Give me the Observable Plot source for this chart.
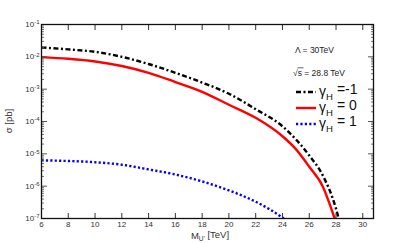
<!DOCTYPE html>
<html><head><meta charset="utf-8">
<script src="https://cdn.jsdelivr.net/npm/d3@7"></script>
<script src="https://cdn.jsdelivr.net/npm/@observablehq/plot@0.6"></script>
<style>
body{margin:0;background:#fff}
svg{font-family:"Liberation Sans",Arial,sans-serif}
</style>
</head><body><div id="chart"></div>
<script>
// gamma_H = -1 (black dash-dot)
const massM1  = [6, 8, 10, 12, 14, 16, 18, 20, 22, 24, 26, 27, 28, 28.2];
const sigmaM1 = [0.0195, 0.0170, 0.0143, 0.0100, 0.0060, 0.0032, 0.0016, 7.2e-4, 2.4e-4, 7.1e-5, 8.9e-6, 2.2e-6, 2.0e-7, 1.0e-7];
// gamma_H = 0 (red solid)
const mass0   = [6, 8, 10, 12, 14, 16, 18, 20, 22, 24, 25, 26, 27, 27.9];
const sigma0  = [0.0098, 0.0087, 0.0072, 0.0052, 0.0032, 0.00166, 8.3e-4, 3.3e-4, 1.3e-4, 3.5e-5, 1.4e-5, 4.0e-6, 1.0e-6, 1.0e-7];
// gamma_H = 1 (blue dotted)
const massP1  = [6, 8, 10, 12, 14, 16, 18, 20, 22, 24, 24.1];
const sigmaP1 = [6.3e-6, 6.0e-6, 5.5e-6, 4.6e-6, 3.3e-6, 2.3e-6, 1.4e-6, 7.4e-7, 3.3e-7, 1.07e-7, 1.0e-7];

const xTicks = [6, 8, 10, 12, 14, 16, 18, 20, 22, 24, 26, 28, 30];
const yExps = [-7, -6, -5, -4, -3, -2, -1];
const legendLabels = ["=-1", "= 0", "= 1"];
const annotLambda = "Λ = 30TeV";
const annotSqrt = "s = 28.8 TeV";

const yMajor = yExps.map(e => Math.pow(10, e));
const yMinor = [];
for (const e of yExps.slice(0, -1)) for (let k = 2; k <= 9; k++) yMinor.push(k * Math.pow(10, e));

const toRows = (ms, ss) => ms.map((m, i) => ({m, s: ss[i]}));
const dM1 = toRows(massM1, sigmaM1), d0 = toRows(mass0, sigma0), dP1 = toRows(massP1, sigmaP1);

const dashBlack = "5,2.5,2,2.5";
const dashBlue = "2.2,2.2";

const plot = Plot.plot({
  width: 415, height: 243,
  marginLeft: 41, marginRight: 42, marginTop: 24, marginBottom: 25,
  style: {fontSize: "8px", color: "#222", background: "#fff"},
  x: {domain: [6, 30.8]},
  y: {type: "log", domain: [1e-7, 1e-1]},
  marks: [
    Plot.line(dM1, {x: "m", y: "s", stroke: "black", strokeWidth: 2.4, strokeDasharray: dashBlack, curve: "monotone-x", clip: true}),
    Plot.line(d0, {x: "m", y: "s", stroke: "#ff0000", strokeWidth: 2.4, curve: "monotone-x", clip: true}),
    Plot.line(dP1, {x: "m", y: "s", stroke: "#0000ff", strokeWidth: 2.4, strokeDasharray: dashBlue, curve: "monotone-x", clip: true}),
    Plot.axisX(xTicks, {anchor: "bottom", tickSize: -5, fill: null, stroke: "#333"}),
    Plot.axisX(xTicks, {anchor: "top", tickSize: -5, fill: null, stroke: "#333"}),
    Plot.axisX(xTicks, {anchor: "bottom", tickSize: 0, tickPadding: 3, label: null, fill: "#333", tickFormat: d => String(d)}),
    Plot.axisY(yMajor, {anchor: "left", tickSize: -6, fill: null, stroke: "#555"}),
    Plot.axisY(yMinor, {anchor: "left", tickSize: -3, fill: null, stroke: "#777"}),
    Plot.axisY(yMajor, {anchor: "right", tickSize: -6, fill: null, stroke: "#555"}),
    Plot.axisY(yMinor, {anchor: "right", tickSize: -3, fill: null, stroke: "#777"}),
    Plot.axisY(yMajor, {anchor: "left", tickSize: 0, tickPadding: 2, label: null, fill: "#333", tickFormat: d => String(Math.round(Math.log10(d)))}),
    Plot.frame({stroke: "#111", strokeWidth: 1.3})
  ]
});
document.getElementById("chart").appendChild(plot);

const svg = d3.select(plot);
// dash patterns on the curves (line marks in order: black, red, blue)
const lineGroups = svg.selectAll('g[aria-label="line"]').nodes();
const dashes = [dashBlack, null, dashBlue];
lineGroups.forEach((g, i) => {
  if (dashes[i]) d3.select(g).selectAll("path").attr("stroke-dasharray", dashes[i]).attr("stroke-linecap", "butt");
});

// superscript y labels
svg.selectAll('g[aria-label="y-axis tick label"] text').each(function() {
  const t = d3.select(this);
  const exp = t.text();
  t.text("");
  t.append("tspan").text("10");
  t.append("tspan").attr("dy", "-0.45em").attr("font-size", "6px").text(exp);
});

// axis titles
const xs = plot.scale("x"), ys = plot.scale("y");
const cx = (xs.range[0] + xs.range[1]) / 2;
const cy = (ys.range[0] + ys.range[1]) / 2;
const xl = svg.append("text").attr("x", cx + 3).attr("y", 239).attr("text-anchor", "middle")
  .attr("font-size", "9.5px").attr("fill", "#333");
xl.append("tspan").text("M");
xl.append("tspan").attr("dy", "0.3em").attr("font-size", "6.5px").text("U'");
xl.append("tspan").attr("dy", "-0.3em").text(" [TeV]");
svg.append("text").attr("transform", `translate(12,${cy}) rotate(-90)`).attr("text-anchor", "middle")
  .attr("font-size", "9.5px").attr("fill", "#333").text("σ [pb]");

// annotations
svg.append("text").attr("x", 295).attr("y", 53).attr("text-anchor", "start").attr("font-size", "8.5px").attr("fill", "#222").text(annotLambda);
const sq = svg.append("text").attr("x", 293).attr("y", 76).attr("text-anchor", "start").attr("font-size", "8.5px").attr("fill", "#222");
sq.append("tspan").text("√");
sq.append("tspan").text(annotSqrt);
svg.append("line").attr("x1", 297.5).attr("x2", 303.5).attr("y1", 67.8).attr("y2", 67.8).attr("stroke", "#222").attr("stroke-width", 0.7);

// legend
const styles = [
  {stroke: "black", dash: dashBlack},
  {stroke: "#ff0000", dash: null},
  {stroke: "#0000ff", dash: dashBlue}
];
legendLabels.forEach((lab, i) => {
  const y = 92 + i * 16;
  svg.append("line").attr("x1", 296).attr("x2", 316).attr("y1", y).attr("y2", y)
    .attr("stroke", styles[i].stroke).attr("stroke-width", 2.4)
    .attr("stroke-dasharray", styles[i].dash);
  const t = svg.append("text").attr("x", 319).attr("y", y + 4).attr("text-anchor", "start").attr("font-size", "14px").attr("fill", "#111");
  t.append("tspan").text("γ");
  t.append("tspan").attr("dy", "0.4em").attr("font-size", "9.5px").text("H");
  t.append("tspan").attr("dy", "-0.4em").attr("dx", "4").text(lab);
});
</script>
</body></html>
